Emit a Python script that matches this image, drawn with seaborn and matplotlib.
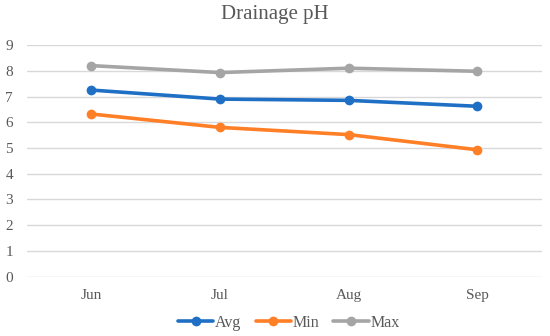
import pandas as pd
import matplotlib.pyplot as plt
import seaborn as sns

# Monthly drainage pH readings
months = ["Jun", "Jul", "Aug", "Sep"]
avg_ph = [7.25, 6.9, 6.85, 6.62]
min_ph = [6.32, 5.8, 5.52, 4.93]
max_ph = [8.2, 7.93, 8.1, 7.98]

df = pd.DataFrame({"Month": months, "Avg": avg_ph, "Min": min_ph, "Max": max_ph})
long_df = df.melt(id_vars="Month", var_name="Series", value_name="pH")

sns.set_style("white")
plt.rcParams["font.family"] = ["Liberation Serif", "DejaVu Serif"]

palette = {"Avg": "#1F6FC5", "Min": "#FF7F27", "Max": "#A5A5A5"}

fig = plt.figure(figsize=(5.5, 3.36), dpi=100)
ax = fig.add_axes([0.049, 0.1765, 0.936, 0.6895])

sns.lineplot(data=long_df, x="Month", y="pH", hue="Series", palette=palette,
             marker="o", markersize=7, markeredgewidth=0, linewidth=2.6,
             sort=False, ax=ax)

ax.set_xlim(-0.5, 3.5)
ax.set_ylim(0, 9)
ax.set_yticks(range(0, 10))
ax.yaxis.grid(True, color="#D9D9D9", linewidth=1)
ax.set_axisbelow(True)
for s in ax.spines.values():
    s.set_visible(False)
ax.tick_params(axis="both", length=0, labelsize=11, colors="#595959")
ax.tick_params(axis="x", pad=9)
ax.tick_params(axis="y", pad=10)
ax.set_xlabel("")
ax.set_ylabel("")

fig.suptitle("Drainage pH", y=0.985, fontsize=15, color="#595959")

# move the legend below the plot, like the original
handles, labels = ax.get_legend_handles_labels()
ax.get_legend().remove()
fig.legend(handles, labels, loc="center", bbox_to_anchor=(0.525, 0.04),
           ncol=3, frameon=False, fontsize=11.5, handlelength=2.2,
           columnspacing=0.9, handletextpad=0.1, labelcolor="#595959")

plt.savefig("out.png", dpi=100)
